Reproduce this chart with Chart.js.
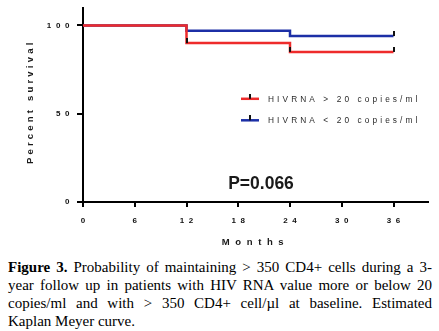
<!DOCTYPE html>
<html>
<head>
<meta charset="utf-8">
<script src="https://cdn.jsdelivr.net/npm/chart.js@4.4.1/dist/chart.umd.min.js"></script>
<style>
  body { margin: 0; background: #fff; width: 439px; height: 331px; overflow: hidden; }
  #wrap { position: absolute; left: 0; top: 0; width: 439px; height: 255px; }
  .caption {
    position: absolute; left: 8px; top: 258px; width: 424px;
    font-family: "Liberation Serif", "Times New Roman", serif;
    font-size: 15px; line-height: 18px; color: #000;
  }
  .caption div { white-space: nowrap; text-align: justify; text-align-last: justify; }
  .caption div.last { text-align-last: left; }
</style>
</head>
<body>
<div id="wrap"><canvas id="km"></canvas></div>
<div class="caption">
  <div><b>Figure 3.</b> Probability of maintaining &gt; 350 CD4+ cells during a 3-</div>
  <div>year follow up in patients with HIV RNA value more or below 20</div>
  <div>copies/ml and with &gt; 350 CD4+ cell/&micro;l at baseline. Estimated</div>
  <div class="last">Kaplan Meyer curve.</div>
</div>
<script>
// Kaplan-Meier steps (months / percent still above 350 CD4+)
const eventMonths = [0, 12, 24, 36];
const survivalAbove20 = [100, 90, 85, 85];
const survivalBelow20 = [100, 97, 94, 94];
// months carrying a censor tick
const censorAbove20 = [12, 24, 36];
const censorBelow20 = [36];

const monthTicks = [0, 6, 12, 18, 24, 30, 36];
const percentTicks = [0, 50, 100];
const seriesNames = ['HIVRNA > 20 copies/ml', 'HIVRNA < 20 copies/ml'];
const seriesColors = ['#ee2b2b', '#1c2fa6'];
const pValueText = 'P=0.066';

const toPoints = vals => eventMonths.map((m, i) => ({ x: m, y: vals[i] }));
const censorPoints = (months, vals) =>
  months.map(m => ({ x: m, y: vals[eventMonths.indexOf(m)] }));

// small vertical censor mark, sitting on top of the curve
const censorMark = document.createElement('canvas');
censorMark.width = 2;
censorMark.height = 10;
const cm = censorMark.getContext('2d');
cm.fillStyle = '#111';
cm.fillRect(0, 0, 2, 5);

const tickFont = { family: 'Arial', size: 8, weight: 'bold' };

const decorations = {
  id: 'decorations',
  beforeDraw(chart) {
    // tracked-out tick labels
    chart.ctx.letterSpacing = '4.6px';
  },
  afterDraw(chart) {
    const { ctx, chartArea: a } = chart;
    ctx.save();
    ctx.fillStyle = '#1a1a1a';
    ctx.textBaseline = 'middle';

    // axis titles
    ctx.textAlign = 'center';
    ctx.font = 'bold 9.5px Arial';
    ctx.letterSpacing = '5.6px';
    ctx.fillText('Months', (a.left + a.right) / 2, a.bottom + 40);

    ctx.letterSpacing = '3.2px';
    ctx.save();
    ctx.translate(30, a.top + 94);
    ctx.rotate(-Math.PI / 2);
    ctx.fillText('Percent survival', 0, 0);
    ctx.restore();

    // legend inside the plot
    ctx.textAlign = 'left';
    ctx.font = '8.3px Arial';
    ctx.letterSpacing = '3.1px';
    seriesNames.forEach((name, i) => {
      const y = a.top + 91 + i * 21.5;
      ctx.strokeStyle = seriesColors[i];
      ctx.lineWidth = 2.5;
      ctx.beginPath();
      ctx.moveTo(a.left + 158, y);
      ctx.lineTo(a.left + 176, y);
      ctx.stroke();
      ctx.drawImage(censorMark, a.left + 166, y - 5);
      ctx.fillStyle = '#2a2a2a';
      ctx.fillText(name, a.left + 185, y + 0.5);
    });

    // log-rank p value
    ctx.letterSpacing = '0px';
    ctx.textAlign = 'center';
    ctx.fillStyle = '#1a1a1a';
    ctx.font = 'bold 17.5px Arial';
    ctx.fillText(pValueText, a.left + 178, a.top + 176);
    ctx.restore();
  }
};

new Chart(document.getElementById('km'), {
  type: 'line',
  data: {
    datasets: [
      {
        label: seriesNames[0],
        data: toPoints(survivalAbove20),
        stepped: 'before',
        borderColor: seriesColors[0],
        borderWidth: 2.5,
        pointRadius: 0,
        fill: false
      },
      {
        label: seriesNames[1],
        data: toPoints(survivalBelow20),
        stepped: 'before',
        borderColor: seriesColors[1],
        borderWidth: 2.5,
        pointRadius: 0,
        fill: false
      },
      {
        label: 'censored',
        data: censorPoints(censorAbove20, survivalAbove20),
        showLine: false,
        pointStyle: censorMark,
        order: -1
      },
      {
        label: 'censored',
        data: censorPoints(censorBelow20, survivalBelow20),
        showLine: false,
        pointStyle: censorMark,
        order: -1
      }
    ]
  },
  options: {
    responsive: true,
    maintainAspectRatio: false,
    animation: false,
    layout: { padding: { top: 7, right: 11, left: 0, bottom: 0 } },
    plugins: {
      legend: { display: false },
      tooltip: { enabled: false }
    },
    scales: {
      x: {
        type: 'linear',
        min: 0,
        max: 40,
        afterBuildTicks: s => { s.ticks = monthTicks.map(v => ({ value: v })); },
        afterFit: s => { s.height = 53; },
        grid: { drawOnChartArea: false, drawTicks: true, tickLength: 5, color: '#000', lineWidth: 2 },
        border: { color: '#000', width: 2 },
        ticks: { font: tickFont, color: '#111', padding: 9, labelOffset: 2.3, maxRotation: 0, autoSkip: false }
      },
      y: {
        min: 0,
        max: 110,
        afterBuildTicks: s => { s.ticks = percentTicks.map(v => ({ value: v })); },
        afterFit: s => { s.width = 83; },
        grid: { drawOnChartArea: false, drawTicks: true, tickLength: 6, color: '#000', lineWidth: 2 },
        border: { color: '#000', width: 2 },
        ticks: { font: tickFont, color: '#111', padding: 3 }
      }
    }
  },
  plugins: [decorations]
});
</script>
</body>
</html>
